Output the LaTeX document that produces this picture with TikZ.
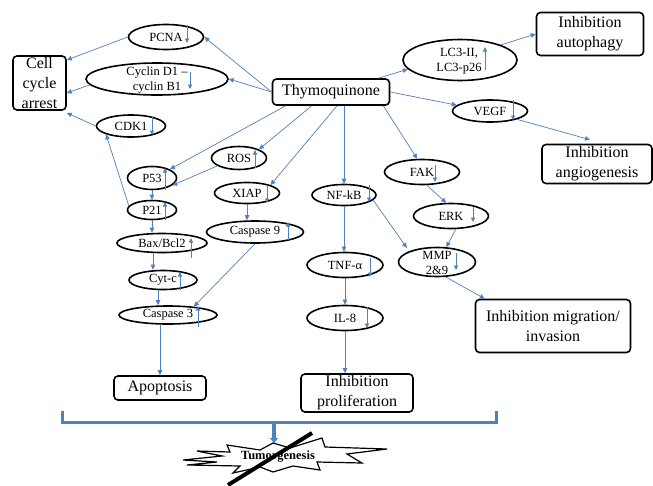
\documentclass[tikz,border=0pt]{standalone}
\usepackage{fontspec}
\setmainfont{Liberation Serif}
\usetikzlibrary{shapes.geometric,arrows.meta,calc}
\definecolor{lnblue}{RGB}{79,129,189}
\begin{document}
\begin{tikzpicture}[x=1pt,y=-1pt,
 ell/.style={ellipse,draw=black,line width=1.6pt,inner sep=0pt,font=\fontsize{12.5}{15}\selectfont,align=center},
 elltext/.style={inner sep=0pt,font=\fontsize{12.5}{15}\selectfont,align=center},
 box/.style={rectangle,rounded corners=4pt,draw=black,line width=1.6pt,inner sep=0pt,font=\fontsize{16}{20}\selectfont,align=center},
 conn/.style={draw=lnblue,line width=0.7pt,-{Triangle[width=4.5pt,length=5pt]}},
 ind/.style={draw=lnblue,line width=0.8pt,-{Triangle[width=4pt,length=4.5pt]}}]
\useasboundingbox (0,0) rectangle (653,485);
\fill[white] (0,0) rectangle (653,485);

% nodes
\node[box,minimum width=117pt,minimum height=26pt] (thy) at (331,92) {Thymoquinone};
\node[ell,minimum width=75pt,minimum height=25pt] (pcna) at (166,37) {PCNA};
\node[ell,minimum width=142pt,minimum height=32pt] (cyc) at (157,79) {};
\node[elltext] (cyct) at (157,80) {Cyclin D1 –\\cyclin B1};
\node[box,minimum width=53pt,minimum height=54pt] (cca) at (39.5,83) {Cell\\cycle\\arrest};
\node[ell,minimum width=69pt,minimum height=22pt] (cdk) at (131,126) {CDK1};
\node[ell,minimum width=55pt,minimum height=23pt] (ros) at (239,158) {ROS};
\node[ell,minimum width=49pt,minimum height=23pt] (p53) at (152,178) {P53};
\node[ell,minimum width=65pt,minimum height=21pt] (xiap) at (247,193) {XIAP};
\node[ell,minimum width=49pt,minimum height=19pt] (p21) at (152,210) {P21};
\node[ell,minimum width=97pt,minimum height=22pt] (cas9) at (255,232) {Caspase 9};
\node[ell,minimum width=90pt,minimum height=19pt] (bax) at (162,243) {Bax/Bcl2};
\node[ell,minimum width=68pt,minimum height=19pt] (cytc) at (163,280) {Cyt-c};
\node[ell,minimum width=98pt,minimum height=18pt] (cas3) at (168,315) {Caspase 3};
\node[box,minimum width=92pt,minimum height=24pt] (apo) at (160,388) {Apoptosis};
\node[ell,minimum width=64pt,minimum height=21pt] (nfkb) at (344,195) {NF-kB};
\node[ell,minimum width=76pt,minimum height=25pt] (tnf) at (345,265) {TNF-α};
\node[ell,minimum width=76pt,minimum height=25pt] (il8) at (345,318) {IL-8};
\node[box,minimum width=112pt,minimum height=38pt] (prol) at (357,393) {Inhibition\\proliferation};
\node[ell,minimum width=75pt,minimum height=25pt] (fak) at (422,172) {FAK};
\node[ell,minimum width=75pt,minimum height=25pt] (erk) at (451,216) {ERK};
\node[ell,minimum width=77pt,minimum height=29pt] (mmp) at (437,262) {};
\node[elltext] (mmpt) at (437,263) {MMP\\2\&9};
\node[box,minimum width=155pt,minimum height=53pt] (mig) at (553,326) {Inhibition migration/\\invasion};
\node[ell,minimum width=114pt,minimum height=41pt] (lc3) at (460,60) {};
\node[elltext] (lc3t) at (459,61) {LC3-II,\\LC3-p26};
\node[box,minimum width=107pt,minimum height=43pt] (aut) at (590,34) {Inhibition\\autophagy};
\node[ell,minimum width=75pt,minimum height=22pt] (vegf) at (490,111) {VEGF};
\node[box,minimum width=110pt,minimum height=39pt] (ang) at (597,164) {Inhibition\\angiogenesis};

% connectors from Thymoquinone
\draw[conn] (thy.west) -- (pcna.east);
\draw[conn] (thy.west) -- (cyc.east);
\draw[conn] ($(thy.south west)+(14,0)$) -- (p53.north east);
\draw[conn] ($(thy.south west)+(40,0)$) -- (ros.north east);
\draw[conn] ($(thy.south)+(6,0)$) -- (xiap.north east);
\draw[conn] (thy.south -| nfkb.north) -- (nfkb.north);
\draw[conn] ($(thy.south east)+(-7,0)$) -- (fak.110);
\draw[conn] ($(thy.north east)+(-12,0)$) -- (lc3.190);
\draw[conn] (thy.east) -- (vegf.170);
\draw[conn] (lc3.north east) -- (aut.west);
\draw[conn] (vegf.south east) -- ($(ang.north)+(-7,-4)$);

% cell cycle
\draw[conn] (pcna.west) -- ($(cca.east)+(0,-23)$);
\draw[conn] (cyc.185) -- ($(cca.east)+(0,10)$);
\draw[conn] (cdk.west) -- ($(cca.south east)+(0,2)$);
\draw[conn] (p21.170) -- (cdk.south west);

% apoptosis chain
\draw[conn] (ros.200) -- (p53.340);
\draw[conn] (p53.south) -- (p21.north);
\draw[conn] (p21.south) -- (p21.south |- bax.north);
\draw[conn] ($(bax.south)+(-9,0)$) -- ($(cytc.north)+(-10,0)$);
\draw[conn] ($(cytc.south)+(-5,0)$) -- ($(cas3.north)+(-10,0)$);
\draw[conn] (xiap.south) -- (xiap.south |- cas9.north);
\draw[conn] (cas9.south) -- (cas3.18);
\draw[conn] (cas3.south -| apo.north) -- (apo.north);

% proliferation
\draw[conn] (nfkb.south) -- (nfkb.south |- tnf.north);
\draw[conn] (tnf.south) -- (il8.north);
\draw[conn] (il8.south) -- (il8.south |- prol.north);

% migration
\draw[conn, shorten >=4pt] (nfkb.350) -- (mmp.north west);
\draw[conn] (fak.290) -- (erk.110);
\draw[conn] (erk.290) -- (mmp.58);
\draw[conn] (mmp.300) -- ($(mig.north west)+(10,0)$);

% indicator arrows
\draw[ind] (187,25) -- (187,43);
\draw[ind] (190,72) -- (190,89);
\draw[ind] (152,117) -- (152,135);
\draw[ind] (255,168) -- (255,150);
\draw[ind] (165,190) -- (165,168);
\draw[ind] (267,185) -- (267,203);
\draw[ind] (165,220) -- (165,202);
\draw[ind] (288,240) -- (288,222);
\draw[ind] (191,258) -- (191,238);
\draw[ind] (180,290) -- (180,272);
\draw[ind] (198,327) -- (198,306);
\draw[ind] (369,185) -- (369,202);
\draw[ind] (370,258) -- (370,277);
\draw[ind] (367,307) -- (367,328);
\draw[ind] (435,165) -- (435,182);
\draw[ind] (473,207) -- (473,222);
\draw[ind] (456,253) -- (456,270);
\draw[ind] (485,70) -- (485,47);
\draw[ind] (513,100) -- (513,120);

% bracket
\draw[lnblue, line width=3pt] (62,411) -- (62,422) -- (496,422) -- (496,411);
\coordinate (brk) at (274,422);
\coordinate (bursttop) at (274,443);
\draw[lnblue, line width=3.5pt, -{Triangle[width=8pt,length=5pt]}] (brk) -- (bursttop);

% burst
\draw[black, line width=1.2pt, fill=white, line join=miter]
 (183,460) -- (222,456) -- (197,451) -- (230,452) -- (227,445) -- (260,450) -- (273,443)
 -- (290,448) -- (322,438) -- (325,447) -- (387,449) -- (347,454) -- (362,463)
 -- (317,462) -- (320,470) -- (293,466) -- (273,472) -- (260,467) -- (233,473)
 -- (240,466) -- (187,465) -- (217,462) -- cycle;
\node[inner sep=0pt, font=\fontsize{12.5}{15}\selectfont\bfseries] (tum) at (278,457) {Tumorgenesis};
\draw[black, line width=4pt] (312,433) -- (228,485);
\end{tikzpicture}
\end{document}
